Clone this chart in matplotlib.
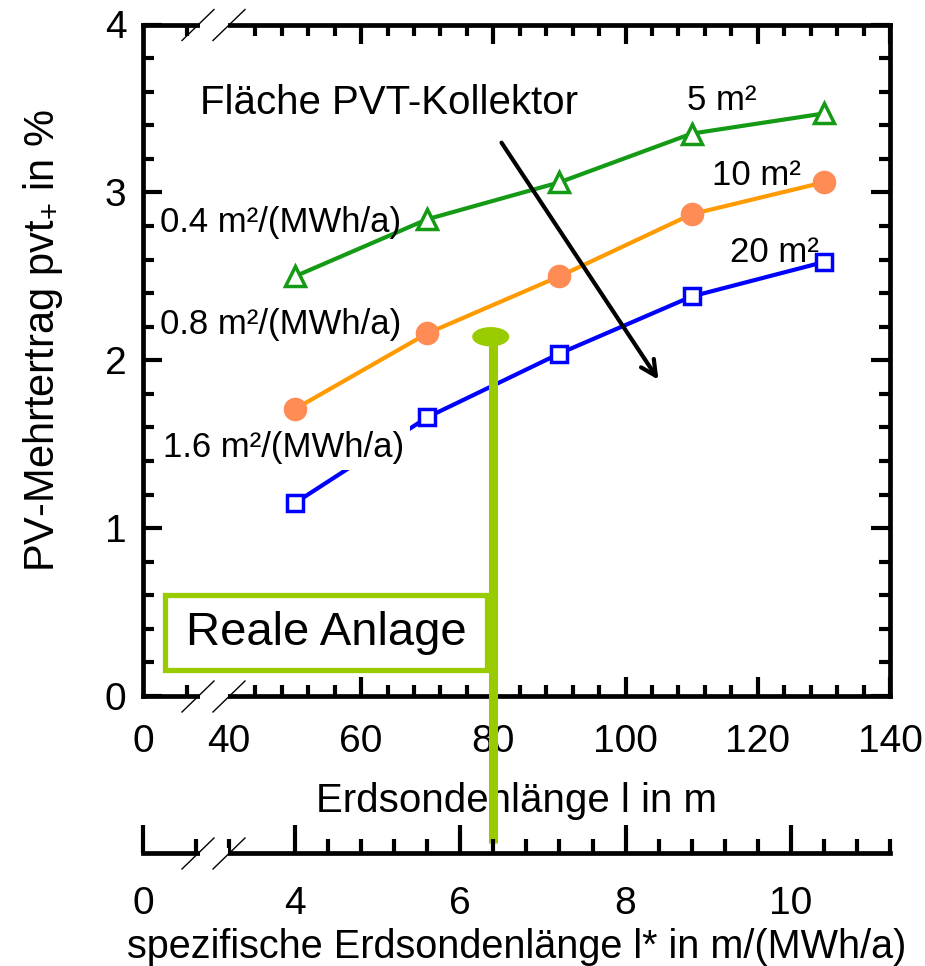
import matplotlib
matplotlib.use("Agg")
import matplotlib.pyplot as plt
from matplotlib.lines import Line2D
from matplotlib.patches import Rectangle, Ellipse

plt.rcParams['font.family'] = ['Liberation Sans', 'DejaVu Sans']
plt.rcParams['mathtext.fontset'] = 'custom'
plt.rcParams['mathtext.rm'] = 'Liberation Sans'
plt.rcParams['mathtext.default'] = 'regular'

# borehole length l in m
length_m = [50, 70, 90, 110, 130]
# additional PV yield in % for the three collector areas
gain_5m2 = [2.50, 2.84, 3.06, 3.35, 3.47]
gain_10m2 = [1.71, 2.16, 2.50, 2.87, 3.06]
gain_20m2 = [1.15, 1.66, 2.04, 2.38, 2.585]

x_ticks = [27, 40, 60, 80, 100, 120, 140]
x_ticklabels = ['0', '40', '60', '80', '100', '120', '140']
spec_ticks = [27, 50, 75, 100, 125]          # l = 12.5 * l*
spec_ticklabels = ['0', '4', '6', '8', '10']

W, H = 925, 966
GREEN_HL = '#99cc00'


def fx(px):
    return px / W


def fy(py):
    return 1 - py / H


fig = plt.figure(figsize=(W / 100, H / 100), dpi=100)
ax = fig.add_axes([fx(143), fy(696), (890 - 143) / W, (696 - 24.5) / H])

ax.plot(length_m, gain_5m2, color='#159a15', lw=3, marker='^', ms=15,
        mfc='white', mec='#159a15', mew=2.5, zorder=3)
ax.plot(length_m, gain_10m2, color='#ff9a00', lw=3, marker='o', ms=16,
        mfc='#ff8c55', mec='#ff8c55', zorder=3)
ax.plot(length_m, gain_20m2, color='#0000ff', lw=3, marker='s', ms=11,
        mfc='white', mec='#0000ff', mew=2.5, zorder=3)

ax.set_xlim(27, 140)
ax.set_ylim(0, 4)
ax.set_xticks(x_ticks)
ax.set_xticklabels(x_ticklabels)
ax.set_xticks([33.6, 44, 48, 52, 56, 64, 68, 72, 76, 84, 88, 92, 96,
               104, 108, 112, 116, 124, 128, 132, 136], minor=True)
ax.set_yticks([0, 1, 2, 3, 4])
ax.set_yticks([i * 0.2 for i in range(21)], minor=True)
ax.tick_params(which='both', direction='in', top=True, right=True,
               width=3, labelsize=28)
ax.tick_params(which='major', length=14, pad=20)
ax.tick_params(which='minor', length=8)
ax.tick_params(axis='y', pad=12)
for t in ax.xaxis.get_major_ticks()[:2]:
    t.tick1line.set_visible(False)
    t.tick2line.set_visible(False)
for s in ax.spines.values():
    s.set_linewidth(3.4)

ax.set_xlabel('Erdsondenlänge l in m', fontsize=29, labelpad=16)
ax.set_ylabel('PV-Mehrtertrag pvt$_{+}$ in %', fontsize=30)
ax.yaxis.set_label_coords(-0.105, 0.53)

# annotations
ax.text(29.6, 2.82, '0.4 m²/(MWh/a)', fontsize=25, va='center')
ax.text(29.6, 2.21, '0.8 m²/(MWh/a)', fontsize=25, va='center')
ax.text(30.0, 1.48, '1.6 m²/(MWh/a)', fontsize=25, va='center', zorder=4,
        bbox=dict(facecolor='white', edgecolor='none', pad=4))
ax.text(109.3, 3.55, '5 m²', fontsize=25, va='center')
ax.text(113.1, 3.10, '10 m²', fontsize=25, va='center')
ax.text(115.8, 2.64, '20 m²', fontsize=25, va='center')
ax.text(35.6, 3.53, 'Fläche PVT-Kollektor', fontsize=29, va='center')
ax.annotate('', xy=(105.2, 1.87), xytext=(81.0, 3.31),
            arrowprops=dict(arrowstyle='->,head_length=1.1,head_width=0.55',
                            lw=3, color='black', capstyle='round'))

# real plant marker
ax.add_patch(Ellipse((79.6, 2.14), 5.4, 0.107, color=GREEN_HL, zorder=5,
                     clip_on=False))
ax.plot([80.0, 80.0], [2.14, -0.876], color=GREEN_HL, lw=6.5, zorder=5,
        clip_on=False, solid_capstyle='butt')
ax.add_patch(Rectangle((30.4, 0.152), 48.7, 0.447, facecolor='white',
                       edgecolor=GREEN_HL, lw=3.8, zorder=4))
ax.text(54.7, 0.375, 'Reale Anlage', fontsize=34, ha='center', va='center',
        zorder=6)

# secondary axis: specific borehole length
ax2 = fig.add_axes([fx(143), fy(853), (890 - 143) / W, 0.0001])
ax2.set_xlim(27, 140)
ax2.set_ylim(0, 1)
for k in ['top', 'left', 'right']:
    ax2.spines[k].set_visible(False)
ax2.spines['bottom'].set_linewidth(3.4)
ax2.set_yticks([])
ax2.set_xticks(spec_ticks)
ax2.set_xticklabels(spec_ticklabels)
ax2.set_xticks([35, 40, 55, 60, 65, 70, 80, 85, 90, 95, 105, 110, 115, 120,
                130, 135, 140], minor=True)
ax2.tick_params(which='both', direction='in', width=3, labelsize=28)
ax2.tick_params(which='major', length=20, pad=24)
ax2.tick_params(which='minor', length=10)
ax2.set_xlabel('spezifische Erdsondenlänge l* in m/(MWh/a)', fontsize=28.5,
               labelpad=4)
ax2.patch.set_visible(False)

# axis breaks
for yc in (24.5, 696, 853):
    fig.add_artist(Rectangle((fx(200), fy(yc + 5)), 28 / W, 10 / H,
                             transform=fig.transFigure, facecolor='white',
                             edgecolor='none', zorder=10))
    for x0 in (182, 213):
        fig.add_artist(Line2D([fx(x0), fx(x0 + 32)], [fy(yc + 16), fy(yc - 15)],
                              transform=fig.transFigure, color='black',
                              lw=1, zorder=11))

fig.savefig('out.png', dpi=100)
